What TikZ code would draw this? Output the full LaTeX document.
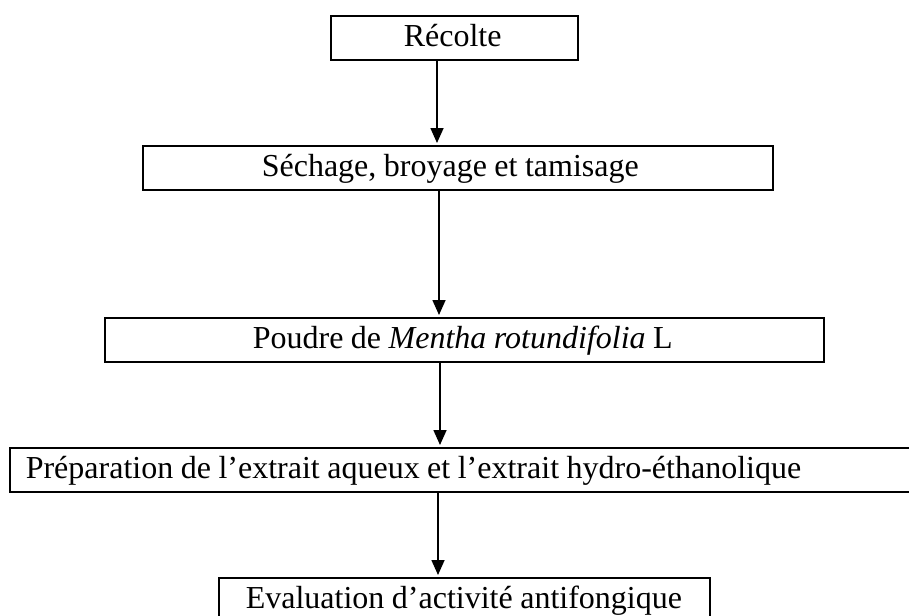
\documentclass[tikz,border=0pt]{standalone}
\usepackage{fontspec}
\setmainfont{Liberation Serif}
\usetikzlibrary{arrows.meta}
\begin{document}
\begin{tikzpicture}[x=1pt,y=-1pt,
  stepbox/.style={draw, line width=1.6pt, rectangle, anchor=north west,
    inner sep=0pt, minimum height=44pt, text height=24pt, text depth=6pt,
    align=left, font=\fontsize{32}{38}\selectfont,
    execute at begin node={\spaceskip=7.5pt plus 1pt minus 1pt\relax}},
  arr/.style={line width=1.6pt, -{Triangle[width=13pt,length=15pt]}, shorten >=2pt}]
\clip (0,0) rectangle (909,615);
\node[stepbox, text width=247pt] (B1) at (330,15) {\hspace*{73pt}Récolte};
\node[stepbox, text width=630pt] (B2) at (142,145) {\hspace*{119pt}Séchage, broyage et tamisage};
\node[stepbox, text width=719pt] (B3) at (104,317) {\hspace*{148pt}Poudre de \textit{Mentha rotundifolia} L};
\node[stepbox, text width=921pt] (B4) at (9,447) {\hspace*{16pt}Préparation de l’extrait aqueux et l’extrait hydro-éthanolique};
\node[stepbox, text width=491pt] (B5) at (218,577) {\hspace*{27pt}Evaluation d’activité antifongique};
\coordinate (x1) at (437,0);
\coordinate (x2) at (439,0);
\coordinate (x3) at (440,0);
\coordinate (x4) at (438,0);
\draw[arr] (B1.south -| x1) -- (B2.north -| x1);
\draw[arr] (B2.south -| x2) -- (B3.north -| x2);
\draw[arr] (B3.south -| x3) -- (B4.north -| x3);
\draw[arr] (B4.south -| x4) -- (B5.north -| x4);
\end{tikzpicture}
\end{document}
